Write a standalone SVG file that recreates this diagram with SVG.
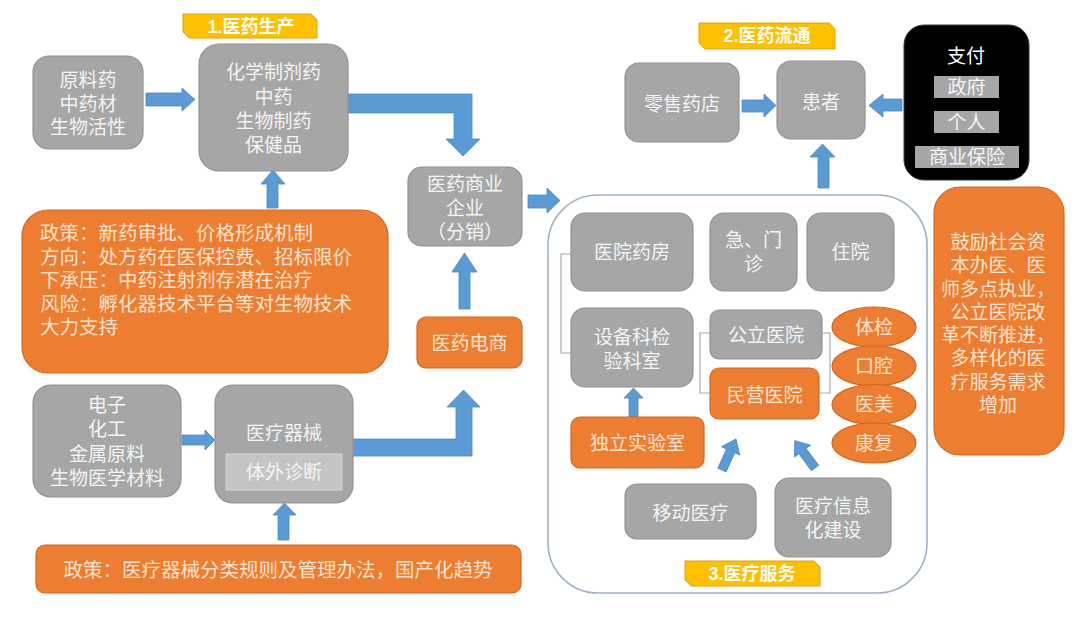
<svg xmlns="http://www.w3.org/2000/svg" width="1080" height="618" viewBox="0 0 1080 618">
<style>
text{font-family:"Liberation Sans","Noto Sans CJK SC",sans-serif;font-size:19px;dominant-baseline:central}
.g{fill:#a6a6a6;stroke:#929292;stroke-width:1.2}
.o{fill:#ed7d31;stroke:#d2691e;stroke-width:1.2}
.gt{fill:#f4f4f4;text-anchor:middle}
.ot{fill:#fde4cf;text-anchor:middle}
.ol{fill:#fde4cf;text-anchor:start;font-size:19.5px}
.tab{fill:#ffc000;stroke:#e0a400;stroke-width:1}
.tt{fill:#ffffff;text-anchor:middle;font-weight:bold;font-size:18px}
.ar{fill:#5b9bd5;stroke:#4a88c4;stroke-width:0.8}
.ln{fill:none;stroke:#a8a8a8;stroke-width:1.2}
</style>
<rect width="1080" height="618" fill="#ffffff"/>

<g id="container">
<rect x="548" y="195" width="379" height="398" rx="50" ry="50" fill="#ffffff" stroke="#9fb1c6" stroke-width="1.6"/>
</g>

<g id="connectors">
<path class="ar" d="M146,93 H182 V88 L195,99.5 L182,111 V106 H146 Z"/>
<path class="ar" d="M182,435 H205 V430 L215,440 L205,450 V445 H182 Z"/>
<path class="ar" d="M267,208 V184 H261 L273,170 L285,184 H278 V208 Z"/>
<path class="ar" d="M278,540 V515 H273 L284.5,503 L296,515 H289 V540 Z"/>
<path class="ar" d="M347,94 H472 V139 H480 L463,156 L446,139 H454 V113 H347 Z"/>
<path class="ar" d="M352,439 H456 V407 H447 L463.5,390 L480,407 H472 V456 H352 Z"/>
<path class="ar" d="M528,195 H547 V188 L560,200.5 L547,213 V208 H528 Z"/>
<path class="ar" d="M459,309 V272 H452 L464.5,253 L477,272 H470 V309 Z"/>
<path class="ar" d="M742,100 H764 V94 L776,105.5 L764,117 V112 H742 Z"/>
<path class="ar" d="M902,99 H883 V94 L869,105.5 L883,117 V111 H902 Z"/>
<path class="ar" d="M818,188 V157 H810 L822.5,144 L835,157 H829 V188 Z"/>
<path class="ar" d="M629,417 V398 H624 L633.5,388 L643,398 H638 V417 Z"/>
<path class="ar" transform="translate(722,470) rotate(24.3)" d="M-4.5,0 V-21 H-10 L0,-34 L10,-21 H4.5 V0 Z"/>
<path class="ar" transform="translate(815,468) rotate(-36.5)" d="M-4.5,0 V-21 H-10 L0,-34 L10,-21 H4.5 V0 Z"/>
<polyline class="ln" points="571,254 561,254 561,353 571,353"/>
<polyline class="ln" points="710,333 700,333 700,393 710,393"/>
<polyline class="ln" points="822,333 830,333 830,393 819,393"/>
</g>

<g id="tab1">
<polygon class="tab" points="183,14 311,14 317,20 317,38 189,38 183,32"/>
<text class="tt" x="251" y="26.5">1.医药生产</text>
</g>
<g id="tab2">
<polygon class="tab" points="699,23 829,23 835,29 835,49 705,49 699,43"/>
<text class="tt" x="767" y="36">2.医药流通</text>
</g>
<g id="tab3">
<polygon class="tab" points="685,561 814,561 820,567 820,586 691,586 685,580"/>
<text class="tt" x="752" y="573.5">3.医疗服务</text>
</g>

<g id="raw">
<rect class="g" x="33" y="56" width="110" height="93" rx="16"/>
<text class="gt" x="88" y="80"><tspan x="88" y="80">原料药</tspan><tspan x="88" y="103.5">中药材</tspan><tspan x="88" y="127">生物活性</tspan></text>
</g>

<g id="drugs">
<rect class="g" x="199" y="44" width="149" height="127" rx="20"/>
<text class="gt" x="273.5" y="72"><tspan x="273.5" y="72">化学制剂药</tspan><tspan x="273.5" y="96.5">中药</tspan><tspan x="273.5" y="120.5">生物制药</tspan><tspan x="273.5" y="144.5">保健品</tspan></text>
</g>

<g id="policy1">
<rect class="o" x="22" y="210" width="366" height="163" rx="26"/>
<text class="ol" x="40" y="233"><tspan x="40" y="233">政策：新药审批、价格形成机制</tspan><tspan x="40" y="256.5">方向：处方药在医保控费、招标限价</tspan><tspan x="40" y="280">下承压：中药注射剂存潜在治疗</tspan><tspan x="40" y="303.5">风险：孵化器技术平台等对生物技术</tspan><tspan x="40" y="327">大力支持</tspan></text>
</g>

<g id="materials">
<rect class="g" x="33" y="385" width="148" height="112" rx="18"/>
<text class="gt" x="107" y="405"><tspan x="107" y="405">电子</tspan><tspan x="107" y="429">化工</tspan><tspan x="107" y="454">金属原料</tspan><tspan x="107" y="478">生物医学材料</tspan></text>
</g>

<g id="devices">
<rect class="g" x="215" y="385" width="138" height="118" rx="18"/>
<text class="gt" x="284" y="433">医疗器械</text>
<rect x="226" y="454" width="116" height="36" fill="#c4c4c4" stroke="#d6d6d6" stroke-width="1"/>
<text class="gt" x="284" y="472">体外诊断</text>
</g>

<g id="policy2">
<rect class="o" x="36" y="545" width="485" height="48" rx="9"/>
<text class="ot" x="278" y="570" style="font-size:19.5px">政策：医疗器械分类规则及管理办法，国产化趋势</text>
</g>

<g id="distributor">
<rect class="g" x="408" y="167" width="114" height="79" rx="14"/>
<text class="gt" x="465" y="184"><tspan x="465" y="184">医药商业</tspan><tspan x="465" y="208">企业</tspan><tspan x="465" y="232">（分销）</tspan></text>
</g>

<g id="ecommerce">
<rect class="o" x="417" y="317" width="105" height="51" rx="9"/>
<text class="ot" x="469.5" y="343">医药电商</text>
</g>

<g id="retail">
<rect class="g" x="625" y="63" width="114" height="79" rx="14"/>
<text class="gt" x="682" y="104">零售药店</text>
</g>

<g id="patient">
<rect class="g" x="777" y="61" width="88" height="78" rx="14"/>
<text class="gt" x="821" y="102">患者</text>
</g>

<g id="payment">
<rect x="904" y="25" width="125" height="155" rx="20" fill="#000000" stroke="#3a3a3a" stroke-width="1"/>
<text x="966" y="56" style="fill:#ffffff;text-anchor:middle">支付</text>
<rect x="934" y="76" width="65" height="22" fill="#a6a6a6"/>
<text class="gt" x="966.5" y="87">政府</text>
<rect x="934" y="111" width="65" height="22" fill="#a6a6a6"/>
<text class="gt" x="966.5" y="122">个人</text>
<rect x="915" y="146" width="104" height="22" fill="#a6a6a6"/>
<text class="gt" x="967" y="157">商业保险</text>
</g>

<g id="reform">
<rect class="o" x="934" y="187" width="130" height="268" rx="26"/>
<text class="ot" x="998" y="242"><tspan x="998" y="242">鼓励社会资</tspan><tspan x="998" y="265">本办医、医</tspan><tspan x="998" y="288.5">师多点执业，</tspan><tspan x="998" y="311.5">公立医院改</tspan><tspan x="998" y="335">革不断推进，</tspan><tspan x="998" y="358">多样化的医</tspan><tspan x="998" y="381.5">疗服务需求</tspan><tspan x="998" y="405">增加</tspan></text>
</g>

<g id="pharmacy">
<rect class="g" x="571" y="213" width="122" height="78" rx="14"/>
<text class="gt" x="632" y="252">医院药房</text>
</g>
<g id="emergency">
<rect class="g" x="710" y="213" width="87" height="78" rx="14"/>
<text class="gt" x="753.5" y="240"><tspan x="753.5" y="240">急、门</tspan><tspan x="753.5" y="263.5">诊</tspan></text>
</g>
<g id="inpatient">
<rect class="g" x="807" y="213" width="87" height="78" rx="14"/>
<text class="gt" x="850.5" y="252">住院</text>
</g>
<g id="lab-dept">
<rect class="g" x="571" y="308" width="122" height="79" rx="14"/>
<text class="gt" x="632" y="337"><tspan x="632" y="337">设备科检</tspan><tspan x="632" y="360.5">验科室</tspan></text>
</g>
<g id="public-hospital">
<rect class="g" x="710" y="310" width="112" height="49" rx="9"/>
<text class="gt" x="766" y="335">公立医院</text>
</g>
<g id="private-hospital">
<rect class="o" x="710" y="368" width="109" height="51" rx="9"/>
<text class="ot" x="764.5" y="395">民营医院</text>
</g>
<g id="independent-lab">
<rect class="o" x="571" y="417" width="133" height="51" rx="9"/>
<text class="ot" x="637.5" y="443">独立实验室</text>
</g>
<g id="checkup">
<ellipse class="o" cx="874" cy="327" rx="42" ry="20"/>
<text class="ot" x="874" y="327">体检</text>
</g>
<g id="dental">
<ellipse class="o" cx="874" cy="366" rx="42" ry="20"/>
<text class="ot" x="874" y="366">口腔</text>
</g>
<g id="cosmetic">
<ellipse class="o" cx="874" cy="404.5" rx="42" ry="20"/>
<text class="ot" x="874" y="404.5">医美</text>
</g>
<g id="rehab">
<ellipse class="o" cx="874" cy="443" rx="42" ry="20"/>
<text class="ot" x="874" y="443">康复</text>
</g>
<g id="mobile">
<rect class="g" x="625" y="484" width="131" height="55" rx="12"/>
<text class="gt" x="690.5" y="513">移动医疗</text>
</g>
<g id="it">
<rect class="g" x="775" y="478" width="116" height="79" rx="14"/>
<text class="gt" x="833" y="506"><tspan x="833" y="506">医疗信息</tspan><tspan x="833" y="530">化建设</tspan></text>
</g>
</svg>
